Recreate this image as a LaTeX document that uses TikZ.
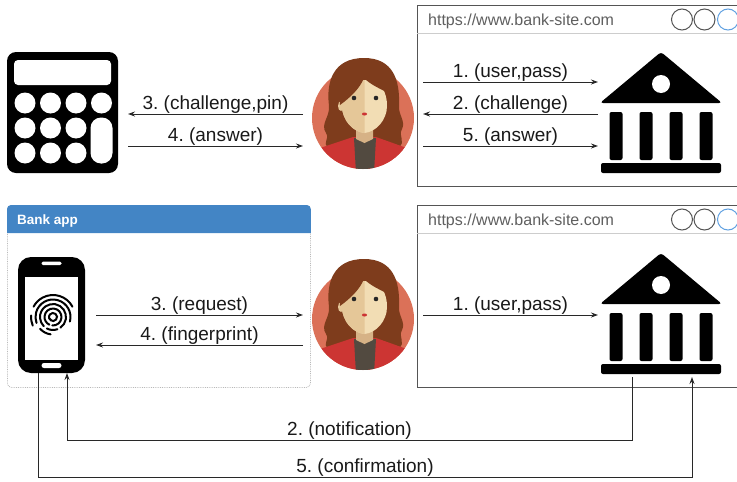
\documentclass[tikz,border=0pt]{standalone}
\usepackage{fontspec}
\setmainfont{Liberation Sans}
\usetikzlibrary{positioning, calc, arrows.meta}
\frenchspacing

\definecolor{appblue}{RGB}{67,133,197}
\definecolor{framegray}{RGB}{85,85,85}
\definecolor{sepgray}{RGB}{205,205,205}
\definecolor{urlgray}{RGB}{95,95,95}
\definecolor{dotblue}{RGB}{95,160,225}
\definecolor{coral}{RGB}{219,113,88}
\definecolor{hairbrown}{RGB}{126,60,28}
\definecolor{skinlo}{RGB}{229,199,152}
\definecolor{skinhi}{RGB}{242,221,180}
\definecolor{neckskin}{RGB}{214,178,134}
\definecolor{neckshade}{RGB}{190,152,110}
\definecolor{jacketred}{RGB}{204,53,51}
\definecolor{shirtgray}{RGB}{82,74,64}
\definecolor{linegray}{RGB}{40,40,40}

% woman avatar, drawn around the centre of a circle node
\newcommand{\drawuser}[1]{%
  \begin{scope}[shift={(#1.center)}]
    \fill[coral] (0,0) circle (51);
    % long hair behind the head
    \fill[hairbrown] (1,-60) .. controls (-30,-60) and (-37,-36) .. (-34,-12)
      .. controls (-33,-1) and (-43,6) .. (-37,15) .. controls (-33,21) and (-41,25) .. (-35,29)
      -- (36,29) .. controls (43,24) and (35,18) .. (39,11)
      .. controls (43,3) and (35,-3) .. (36,-13) .. controls (37,-38) and (30,-60) .. (1,-60) -- cycle;
    \begin{scope}
      \clip (0,0) circle (51);
      \fill[jacketred] (-55,34) -- (-10,19) -- (13,19) -- (55,34) -- (55,60) -- (-55,60) -- cycle;
      \fill[shirtgray] (-9,20) -- (13,20) -- (11,55) -- (-7,55) -- cycle;
    \end{scope}
    % neck
    \fill[neckskin] (-7,6) -- (10,6) -- (10,21) -- (1.5,25) -- (-7,21) -- cycle;
    \fill[neckshade] (-7,6) rectangle (10,12);
    % face, two tones
    \fill[skinhi] (1.5,-38) .. controls (-16,-38) and (-21,-25) .. (-21,-12)
      .. controls (-21,2) and (-10,14) .. (1.5,15) .. controls (13,14) and (24,2) .. (24,-12)
      .. controls (24,-25) and (19,-38) .. (1.5,-38) -- cycle;
    \begin{scope}
      \clip (-30,-45) rectangle (1.5,20);
      \fill[skinlo] (1.5,-38) .. controls (-16,-38) and (-21,-25) .. (-21,-12)
        .. controls (-21,2) and (-10,14) .. (1.5,15) -- cycle;
    \end{scope}
    \fill[skinlo] (-22,-12) ellipse (3 and 5);
    % fringe
    \fill[hairbrown] (-23,-13) .. controls (-12,-21) and (-3,-30) .. (1,-40)
      .. controls (8,-33) and (16,-30) .. (25,-25) -- (27,-45) -- (-25,-45) -- cycle;
    \fill[black!85] (-9,-20) circle (2.3) (13,-20) circle (2.3);
    \fill[red!75!black!80] (1.5,-4) ellipse (2.6 and 1.5);
  \end{scope}}

% bank building icon
\newcommand{\drawbank}[1]{%
  \begin{scope}[shift={(#1.center)}]
    \fill[rounded corners=3pt] (-61,-10) -- (0,-61) -- (61,-10) -- cycle;
    \fill[white] (0,-29) circle (9);
    \foreach \cx in {-45,-15,15,45}
      \fill[rounded corners=2pt] (\cx-6.5,-1) rectangle (\cx+6.5,47);
    \fill[rounded corners=2pt] (-60,50) rectangle (60,60);
  \end{scope}}

\begin{document}
\begin{tikzpicture}[
    x=1pt, y=-1pt,
    msg/.style={-{Stealth[length=7pt,width=5pt]}, line width=0.9pt, draw=linegray},
    lbl/.style={font=\fontsize{19}{21}\selectfont, text=black!90, anchor=base, yshift=4.5pt, inner sep=0pt},
    browser/.style={draw=framegray, line width=1.4pt, fill=white, anchor=north west, minimum width=322pt, inner sep=0pt},
    url/.style={font=\fontsize{16}{18}\selectfont, text=urlgray, anchor=base west, inner sep=0pt},
    winbtn/.style={circle, draw=framegray, line width=1pt, minimum size=21pt, inner sep=0pt},
    panel/.style={draw=gray!55, densely dotted, line width=0.8pt, rounded corners=4pt, anchor=north west, minimum width=303pt, minimum height=182pt, inner sep=0pt},
    usernode/.style={circle, minimum size=102pt, inner sep=0pt, outer sep=9pt},
    banknode/.style={minimum width=122pt, minimum height=122pt, inner sep=0pt, outer sep=2pt}
  ]
  \useasboundingbox (0,0) rectangle (737,482);
  \clip (0,0) rectangle (737,482);

  % browser windows
  \node[browser, minimum height=181pt] (web1) at (417,5) {};
  \node[browser, minimum height=182pt] (web2) at (417,205) {};
  \foreach \w in {web1,web2} {
    \draw[sepgray, line width=1pt] ([yshift=-28pt]\w.north west) -- ([yshift=-28pt]\w.north east);
    \node[url] (\w-url) at ([xshift=11pt, yshift=-20.5pt]\w.north west) {https://www.bank-site.com};
    \node[winbtn] (\w-b1) at ([xshift=265pt, yshift=-14.5pt]\w.north west) {};
    \node[winbtn] (\w-b2) at ([xshift=287.5pt, yshift=-14.5pt]\w.north west) {};
    \node[winbtn, draw=dotblue] (\w-b3) at ([xshift=311pt, yshift=-14.5pt]\w.north west) {};
  }

  % bank app panel
  \node[panel] (app) at (7,205) {};
  \fill[appblue] ([yshift=-28pt]app.north west) [rounded corners=4pt] -- (app.north west)
    -- (app.north east) [sharp corners] -- ([yshift=-28pt]app.north east) -- cycle;
  \node[font=\fontsize{13.5}{15}\selectfont\bfseries, text=white, anchor=base west, inner sep=0pt]
    (apptitle) at ([xshift=10pt, yshift=-19pt]app.north west) {Bank app};

  % calculator
  \node[fill=black, rounded corners=9pt, minimum width=111pt, minimum height=121pt,
    inner sep=0pt, outer xsep=10pt, outer ysep=0pt] (calc) at (62.5,112.5) {};
  \begin{scope}[shift={(calc.center)}]
    \fill[white, rounded corners=4pt] (-48.5,-52.5) rectangle (48.5,-27.5);
    \foreach \bx in {-37.5,-12,13.5}
      \foreach \by in {-9.5,15.5,40.5}
        \fill[white] (\bx,\by) circle (10.5);
    \fill[white] (39,-9.5) circle (10.5);
    \fill[white, rounded corners=10.5pt] (28,5) rectangle (50,51);
  \end{scope}

  % phone with fingerprint
  \node[fill=black, rounded corners=13pt, minimum width=67pt, minimum height=116pt,
    inner sep=0pt, outer xsep=11pt, outer ysep=0pt] (phone) at (51.5,315) {};
  \begin{scope}[shift={(phone.center)}]
    \fill[white] (-26.5,-38) rectangle (26.5,45);
    \fill[white, rounded corners=1.5pt] (-10,-53.5) rectangle (10,-50);
    \fill[white, rounded corners=2.5pt] (-10,48) rectangle (10,53);
  \end{scope}
  \begin{scope}[shift={(phone.center)}, yscale=-1, line width=2pt, line cap=round]
    \coordinate (fp) at (1.5,-2);
    \foreach \r/\a/\b in {22/28/152, 17.5/-15/200, 13/-55/225, 8.5/-95/245, 4/-130/250, 17.5/222/262, 13/242/290, 22/176/203}
      \draw ([shift={(\a:\r)}]fp) arc[start angle=\a, end angle=\b, radius=\r];
  \end{scope}

  % users
  \node[usernode] (user1) at (363,118) {};
  \node[usernode] (user2) at (363,319) {};
  \drawuser{user1}
  \drawuser{user2}

  % banks
  \node[banknode] (bank1) at (661,113) {};
  \node[banknode] (bank2) at (661,314) {};
  \drawbank{bank1}
  \drawbank{bank2}

  % message rows
  \coordinate (r1) at (0,82);
  \coordinate (r2) at (0,114);
  \coordinate (r3) at (0,146);
  \coordinate (s1) at (0,315);
  \coordinate (s2) at (0,345);

  \draw[msg] (user1.east |- r1) -- node[lbl] {1. (user,pass)} (bank1.west |- r1);
  \draw[msg] (bank1.west |- r2) -- node[lbl] {2. (challenge)} (user1.east |- r2);
  \draw[msg] (user1.east |- r3) -- node[lbl] {5. (answer)} (bank1.west |- r3);
  \draw[msg] (user1.west |- r2) -- node[lbl] {3. (challenge,pin)} (calc.east |- r2);
  \draw[msg] (calc.east |- r3) -- node[lbl] {4. (answer)} (user1.west |- r3);

  \draw[msg] (phone.east |- s1) -- node[lbl] {3. (request)} (user2.west |- s1);
  \draw[msg] (user2.west |- s2) -- node[lbl] {4. (fingerprint)} (phone.east |- s2);
  \draw[msg] (user2.east |- s1) -- node[lbl] {1. (user,pass)} (bank2.west |- s1);

  \draw[msg] ([xshift=-29pt]bank2.south) -- ++(0,63)
    -| node[lbl, pos=0.25] {2. (notification)} ([xshift=15.5pt]phone.south);
  \draw[msg] ([xshift=-13.5pt]phone.south) -- ++(0,104)
    -| node[lbl, pos=0.25] {5. (confirmation)} ([xshift=31pt]bank2.south);
\end{tikzpicture}
\end{document}
